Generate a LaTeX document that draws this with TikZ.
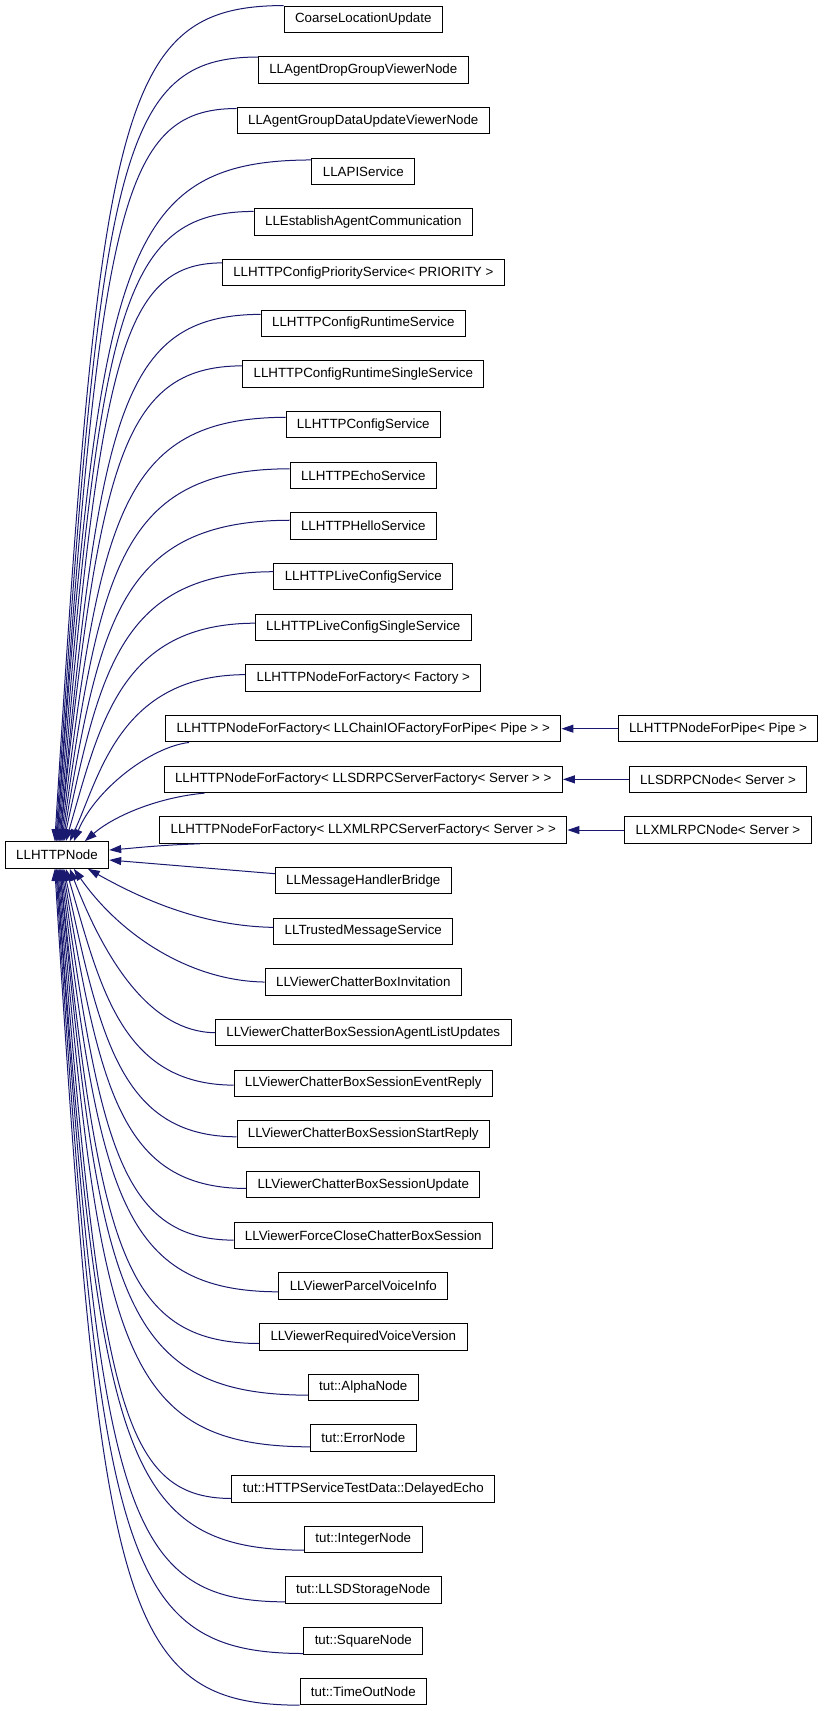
\documentclass[tikz,border=0pt]{standalone}
\usepackage{fontspec}
\setmainfont{Liberation Sans}
\usepackage{tikz}
\usetikzlibrary{arrows.meta, calc}
\definecolor{edgeblue}{RGB}{25,25,112}

\begin{document}
\begin{tikzpicture}[x=0.75pt, y=-0.75pt,
    cls/.style={draw, line width=0.75pt, font=\fontsize{10}{12}\selectfont, inner xsep=8.2pt, inner ysep=0pt, minimum height=19.9pt},
    inherit/.style={-{Triangle[length=9pt, width=6pt]}, edgeblue, line width=0.75pt}]
    \useasboundingbox (0,0) rectangle (824,1711);

    % Base class
    \node[cls] (base) at (57,855) {LLHTTPNode};

    % Derived classes, one per rank
    \foreach \name [count=\i] in {CoarseLocationUpdate, LLAgentDropGroupViewerNode, LLAgentGroupDataUpdateViewerNode, LLAPIService, LLEstablishAgentCommunication, LLHTTPConfigPriorityService< PRIORITY >, LLHTTPConfigRuntimeService, LLHTTPConfigRuntimeSingleService, LLHTTPConfigService, LLHTTPEchoService, LLHTTPHelloService, LLHTTPLiveConfigService, LLHTTPLiveConfigSingleService, LLHTTPNodeForFactory< Factory >, LLHTTPNodeForFactory< LLChainIOFactoryForPipe< Pipe > >, LLHTTPNodeForFactory< LLSDRPCServerFactory< Server > >, LLHTTPNodeForFactory< LLXMLRPCServerFactory< Server > >, LLMessageHandlerBridge, LLTrustedMessageService, LLViewerChatterBoxInvitation, LLViewerChatterBoxSessionAgentListUpdates, LLViewerChatterBoxSessionEventReply, LLViewerChatterBoxSessionStartReply, LLViewerChatterBoxSessionUpdate, LLViewerForceCloseChatterBoxSession, LLViewerParcelVoiceInfo, LLViewerRequiredVoiceVersion, tut::AlphaNode, tut::ErrorNode, tut::HTTPServiceTestData::DelayedEcho, tut::IntegerNode, tut::LLSDStorageNode, tut::SquareNode, tut::TimeOutNode}
        \node[cls] (derived-\i) at (363.3,{19.3+(\i-1)*50.67}) {\name};

    % Template instances on the far right
    \node[cls] (pipe) at ($(derived-15)+(354.7,0)$) {LLHTTPNodeForPipe< Pipe >};
    \node[cls] (sdrpc) at ($(derived-16)+(354.7,0)$) {LLSDRPCNode< Server >};
    \node[cls] (xmlrpc) at ($(derived-17)+(354.7,0)$) {LLXMLRPCNode< Server >};

    % Edges from the upper ranks into the top of the base
    \foreach \i/\ex in {1/55, 2/56, 3/57, 4/57, 5/58, 6/59, 7/60, 8/60, 9/61, 10/62, 11/63, 12/64, 13/66, 14/70} {
        \pgfmathsetmacro\sy{19.3+(\i-1)*51.47-13.25}
        \draw[inherit] ($(derived-\i.north west)+(0,{(\i-1)*0.8})$) .. controls (120,\sy) and (100,{\sy+100}) .. ($(base.north west)+(\ex-5,0)$);
    }
    \draw[inherit] ($(derived-15.south west)+(24,0)$) .. controls (150,747) and (95,790) .. ($(base.north west)+(69,0)$);
    \draw[inherit] ($(derived-16.south west)+(41,0)$) .. controls (160,797) and (115,815) .. ($(base.north west)+(80,0)$);
    \draw[inherit] ($(derived-17.south west)+(41,0)$) .. controls (160,845) and (135,848) .. ($(base.east)+(0,-5)$);
    \draw[inherit] ($(derived-18.west)+(0,-7)$) -- ($(base.east)+(0,5)$);
    \draw[inherit] ($(derived-19.west)+(0,-4)$) .. controls (200,926) and (140,898) .. ($(base.south west)+(83,0)$);
    \draw[inherit] (derived-20.west) .. controls (190,981) and (120,935) .. ($(base.south west)+(69,0)$);
    \draw[inherit] (derived-21.west) .. controls (150,1032) and (105,960) .. ($(base.south west)+(65,0)$);

    % Edges from the lower ranks into the bottom of the base
    \foreach \i/\ex in {22/66, 23/64, 24/63, 25/62, 26/61, 27/60, 28/60, 29/59, 30/58, 31/57, 32/57, 33/56, 34/55} {
        \pgfmathsetmacro\sy{19.3+(\i-1)*50.67+13.25-(34-\i)}
        \draw[inherit] ($(derived-\i.south west)+(0,{-(34-\i)})$) .. controls (120,\sy) and (100,{\sy-100}) .. ($(base.south west)+(\ex-5,0)$);
    }

    % Template specialisations
    \draw[inherit] (pipe) -- (derived-15);
    \draw[inherit] (sdrpc) -- (derived-16);
    \draw[inherit] (xmlrpc) -- (derived-17);
\end{tikzpicture}
\end{document}
